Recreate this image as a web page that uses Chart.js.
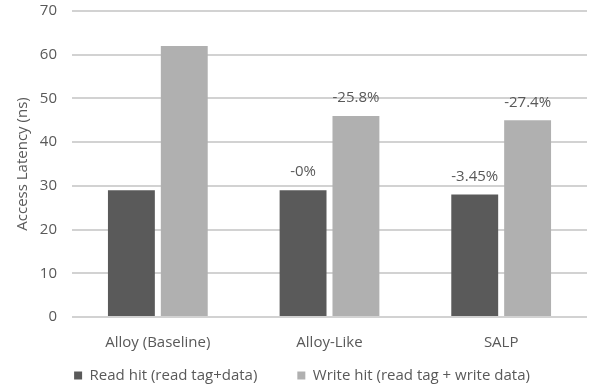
<!DOCTYPE html>
<html>
<head>
<meta charset="utf-8">
<script src="https://cdn.jsdelivr.net/npm/chart.js@4/dist/chart.umd.min.js"></script>
<style>
  html, body { margin: 0; padding: 0; background: #ffffff; }
  #wrap { width: 596px; height: 391px; position: relative; }
</style>
</head>
<body>
<div id="wrap"><canvas id="c" width="596" height="391"></canvas></div>
<script>
// Cache designs compared on hit latency
const categories = ['Alloy (Baseline)', 'Alloy-Like', 'SALP'];
const readHit = [29, 29, 28];
const writeHit = [62, 46, 45];
// Change relative to the Alloy baseline, printed over each bar
const readChange = ['', '-0%', '-3.45%'];
const writeChange = ['', '-25.8%', '-27.4%'];
const yTicks = [0, 10, 20, 30, 40, 50, 60, 70];

const textColor = '#595959';
const fontFamily = '"Open Sans", "Noto Sans", sans-serif';

const barLabels = {
  id: 'barLabels',
  afterDatasetsDraw(chart) {
    const ctx = chart.ctx;
    const sets = [readChange, writeChange];
    ctx.save();
    ctx.font = '15px ' + fontFamily;
    ctx.fillStyle = textColor;
    ctx.textAlign = 'center';
    ctx.textBaseline = 'middle';
    chart.data.datasets.forEach((ds, i) => {
      const meta = chart.getDatasetMeta(i);
      meta.data.forEach((bar, j) => {
        const t = sets[i][j];
        if (t) ctx.fillText(t, bar.x, bar.y - 18);
      });
    });
    ctx.restore();
  }
};

// The legend keeps wide gaps between entries (labels.padding), so its box is
// given a fixed height and then extended upward so the row sits under the axis labels
const LEGEND_BOX = 40;
const LEGEND_LIFT = 23;
const legendPlacement = {
  id: 'legendPlacement',
  beforeInit(chart) {
    const fit = chart.legend.fit;
    chart.legend.fit = function () {
      fit.call(this);
      this.height = LEGEND_BOX;
    };
  },
  afterLayout(chart) {
    chart.legend.top -= LEGEND_LIFT;
    chart.legend.height += LEGEND_LIFT;
  }
};

new Chart(document.getElementById('c'), {
  type: 'bar',
  data: {
    labels: categories,
    datasets: [
      { label: 'Read hit (read tag+data)', data: readHit, backgroundColor: '#5a5a5a',
        categoryPercentage: 0.616, barPercentage: 0.887 },
      { label: 'Write hit (read tag + write data)', data: writeHit, backgroundColor: '#b0b0b0',
        categoryPercentage: 0.616, barPercentage: 0.887 }
    ]
  },
  options: {
    responsive: false,
    animation: false,
    layout: { padding: { top: 11, right: 9, left: 17, bottom: 0 } },
    plugins: {
      legend: {
        position: 'bottom',
        labels: {
          color: textColor,
          font: { family: fontFamily, size: 15 },
          boxWidth: 8, boxHeight: 8,
          padding: 40
        }
      },
      tooltip: { enabled: false }
    },
    scales: {
      x: {
        grid: { display: false },
        border: { display: false },
        ticks: { color: textColor, font: { family: fontFamily, size: 15 }, padding: 9 },
        afterFit(scale) { scale.height = 34; }
      },
      y: {
        min: 0, max: 70,
        afterBuildTicks(scale) { scale.ticks = yTicks.map(v => ({ value: v })); },
        grid: { color: '#d2d2d2', lineWidth: 2, drawTicks: false },
        border: { display: false },
        ticks: { color: textColor, font: { family: fontFamily, size: 15 }, padding: 15 },
        title: { display: true, text: 'Access Latency (ns)', color: textColor,
                 font: { family: fontFamily, size: 15 }, padding: { top: -3, bottom: 0 } },
        afterFit(scale) { scale.width = 55; scale.paddingTop = 0; scale.paddingBottom = 0; }
      }
    }
  },
  plugins: [barLabels, legendPlacement]
});
</script>
</body>
</html>
